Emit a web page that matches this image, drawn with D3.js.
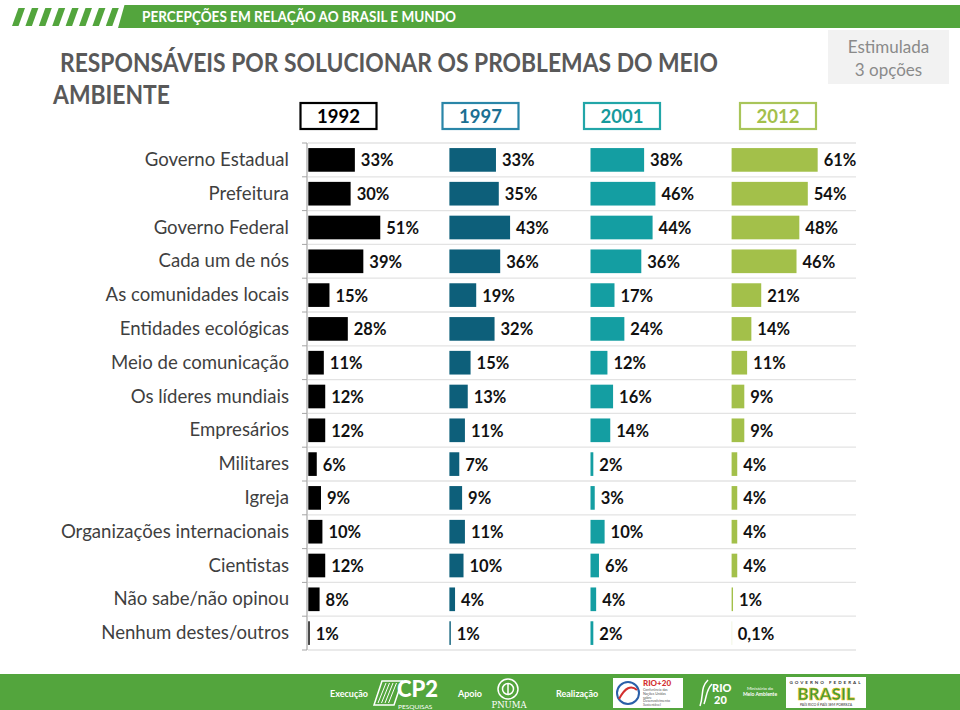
<!DOCTYPE html>
<html><head><meta charset="utf-8">
<script src="https://cdn.jsdelivr.net/npm/d3@7"></script>
<style>body{margin:0;background:#fff} svg{display:block}</style>
</head><body><svg id="c" width="960" height="710"></svg>
<script>
const categories = ["Governo Estadual","Prefeitura","Governo Federal","Cada um de nós","As comunidades locais","Entidades ecológicas","Meio de comunicação","Os líderes mundiais","Empresários","Militares","Igreja","Organizações internacionais","Cientistas","Não sabe/não opinou","Nenhum destes/outros"];
const years = ["1992","1997","2001","2012"];
const values1992 = [33,30,51,39,15,28,11,12,12,6,9,10,12,8,1];
const values1997 = [33,35,43,36,19,32,15,13,11,7,9,11,10,4,1];
const values2001 = [38,46,44,36,17,24,12,16,14,2,3,10,6,4,2];
const values2012 = [61,54,48,46,21,14,11,9,9,4,4,4,4,1,0.1];
const series = [values1992, values1997, values2001, values2012];

const barColors = ["#000000","#0d5f7a","#149ea2","#a3c04a"];
const boxColors = ["#000000","#2a86a8","#22a6a8","#a9c55a"];
const textColors = ["#000000","#1b6f92","#169a9c","#a3c04b"];
const green = "#53a53d";
const font = "Lato, 'Open Sans', sans-serif";

const svg = d3.select("#c");

// ---- header ----
const hdr = svg.append("g");
for (let i = 0; i < 8; i++) {
  const x0 = 12 + i * 13.4;
  hdr.append("polygon")
    .attr("points", `${x0},26 ${x0+6.5},26 ${x0+13},8 ${x0+6.5},8`)
    .attr("fill", green);
}
hdr.append("polygon")
  .attr("points", `118,28 124.5,5 960,5 960,28`)
  .attr("fill", green);
hdr.append("text").attr("x", 142).attr("y", 22)
  .attr("font-family", font).attr("font-weight", 700).attr("font-size", 16)
  .attr("fill", "#fff").attr("textLength", 314).attr("lengthAdjust", "spacingAndGlyphs")
  .text("PERCEPÇÕES EM RELAÇÃO AO BRASIL E MUNDO");

// ---- title ----
svg.append("text").attr("x", 60).attr("y", 72)
  .attr("font-family", font).attr("font-weight", 700).attr("font-size", 26)
  .attr("fill", "#595959").attr("textLength", 658).attr("lengthAdjust", "spacingAndGlyphs")
  .text("RESPONSÁVEIS POR SOLUCIONAR OS PROBLEMAS DO MEIO");
svg.append("text").attr("x", 53).attr("y", 104)
  .attr("font-family", font).attr("font-weight", 700).attr("font-size", 26)
  .attr("fill", "#595959").attr("textLength", 117).attr("lengthAdjust", "spacingAndGlyphs")
  .text("AMBIENTE");

// ---- Estimulada box ----
svg.append("rect").attr("x", 828).attr("y", 30).attr("width", 121).attr("height", 54).attr("fill", "#f2f2f2");
svg.append("text").attr("x", 888.5).attr("y", 53).attr("text-anchor", "middle")
  .attr("font-family", font).attr("font-size", 17).attr("fill", "#8a8a8a").text("Estimulada");
svg.append("text").attr("x", 888.5).attr("y", 76).attr("text-anchor", "middle")
  .attr("font-family", font).attr("font-size", 17).attr("fill", "#8a8a8a").text("3 opções");

// ---- scales ----
const xYear = d3.scaleBand().domain(years).range([308.3, 872.7]);
const x = d3.scaleLinear().domain([0, 100]).range([0, xYear.bandwidth()]);
const y = d3.scaleBand().domain(categories).range([143, 650]).paddingInner(0.3).paddingOuter(0.15);
const gap = (y.step() - y.bandwidth()) / 2;

// ---- year boxes ----
const boxCenters = [338.5, 480.5, 622, 778];
years.forEach((yr, i) => {
  svg.append("rect").attr("x", boxCenters[i] - 38).attr("y", 103).attr("width", 76).attr("height", 26)
    .attr("fill", "#fff").attr("stroke", boxColors[i]).attr("stroke-width", 2.2);
  svg.append("text").attr("x", boxCenters[i]).attr("y", 123).attr("text-anchor", "middle")
    .attr("font-family", font).attr("font-weight", 700).attr("font-size", 18.5)
    .attr("fill", textColors[i]).text(yr);
});

// ---- separators ----
const bounds = categories.map(c => y(c) - gap).concat([650]);
svg.append("g").selectAll("line").data(bounds).join("line")
  .attr("x1", 308).attr("x2", 856).attr("y1", d => d).attr("y2", d => d)
  .attr("stroke", "#e3e3e3").attr("stroke-width", 1.3);
svg.append("g").selectAll("line").data(bounds).join("line")
  .attr("x1", 302).attr("x2", 307).attr("y1", d => d).attr("y2", d => d)
  .attr("stroke", "#a6a6a6").attr("stroke-width", 1);
svg.append("line").attr("x1", 307).attr("x2", 307).attr("y1", 143).attr("y2", 650)
  .attr("stroke", "#a6a6a6").attr("stroke-width", 1.2);

// ---- category labels ----
svg.append("g").selectAll("text").data(categories).join("text")
  .attr("x", 289).attr("y", d => y(d) + y.bandwidth() / 2 + 6)
  .attr("text-anchor", "end").attr("font-family", font).attr("font-size", 18.6)
  .attr("fill", "#3f3f3f").text(d => d);

// ---- bars & labels ----
const fmt = v => String(v).replace(".", ",") + "%";
years.forEach((yr, i) => {
  const g = svg.append("g");
  const data = categories.map((c, j) => ({c, v: series[i][j]}));
  g.selectAll("rect").data(data).join("rect")
    .attr("x", xYear(yr)).attr("y", d => y(d.c))
    .attr("width", d => Math.max(x(d.v), d.v < 0.5 ? 0.6 : 0)).attr("height", y.bandwidth())
    .attr("fill", barColors[i]).attr("opacity", d => d.v < 0.5 ? 0.25 : 1);
  g.selectAll("text").data(data).join("text")
    .attr("x", d => xYear(yr) + x(d.v) + 6)
    .attr("y", d => y(d.c) + y.bandwidth() / 2 + 6.5)
    .attr("font-family", font).attr("font-weight", 700).attr("font-size", 16.5)
    .attr("fill", "#111").text(d => fmt(d.v));
});

// ---- footer ----
const ft = svg.append("g");
ft.append("rect").attr("x", 0).attr("y", 674).attr("width", 960).attr("height", 36).attr("fill", green);
const small = (t, xx, yy, fs, anchor, fam, wt) => ft.append("text").attr("x", xx).attr("y", yy)
  .attr("font-family", fam || font).attr("font-size", fs).attr("font-weight", wt || 700)
  .attr("fill", "#fff").attr("text-anchor", anchor || "start").text(t);
small("Execução", 330, 697, 9);
// CP2 logo
ft.append("polygon").attr("points", "374,705 382,681 402,681 394,705").attr("fill", "none").attr("stroke", "#fff").attr("stroke-width", 1.5);
[0,1,2,3].forEach(k => ft.append("line").attr("x1", 378 + k*3.5).attr("y1", 703).attr("x2", 386 + k*3.5).attr("y2", 683).attr("stroke", "#fff").attr("stroke-width", 1));
small("CP2", 397, 697, 22, "start", font, 900);
small("PESQUISAS", 398, 708.5, 6.5, "start", font, 400);
small("Apoio", 458, 697, 9);
// UN emblem
ft.append("circle").attr("cx", 508).attr("cy", 689).attr("r", 10).attr("fill", "none").attr("stroke", "#fff").attr("stroke-width", 1.5);
ft.append("circle").attr("cx", 508).attr("cy", 689).attr("r", 5.5).attr("fill", "none").attr("stroke", "#fff").attr("stroke-width", 1.5);
ft.append("line").attr("x1", 508).attr("x2", 508).attr("y1", 683).attr("y2", 695).attr("stroke", "#fff").attr("stroke-width", 1.5);
small("PNUMA", 509, 708, 8.5, "middle", "'DejaVu Serif', serif", 400);
small("Realização", 556, 697, 9);
// RIO+20 box
ft.append("rect").attr("x", 613).attr("y", 678).attr("width", 70).attr("height", 30).attr("fill", "#fff");
ft.append("circle").attr("cx", 628).attr("cy", 693).attr("r", 11).attr("fill", "none").attr("stroke", "#2b5fa8").attr("stroke-width", 2);
ft.append("path").attr("d", "M619,699 Q628,682 637,690").attr("fill", "none").attr("stroke", "#d32f2f").attr("stroke-width", 2);
ft.append("text").attr("x", 643).attr("y", 686).attr("font-family", font).attr("font-weight", 900).attr("font-size", 8).attr("fill", "#d32f2f").text("RIO+20");
["Conferência das","Nações Unidas","sobre","Desenvolvimento","Sustentável"].forEach((t, k) =>
  ft.append("text").attr("x", 643).attr("y", 691 + k*3.8).attr("font-family", font).attr("font-size", 3.5).attr("fill", "#555").text(t));
// RIO 20 logo
ft.append("path").attr("d", "M700,706 C704,695 700,688 708,680 M704,704 C707,696 706,690 712,684").attr("fill", "none").attr("stroke", "#fff").attr("stroke-width", 1.5);
small("RIO", 712, 692, 11, "start", font, 900);
small("20", 714, 704, 11, "start", font, 900);
small("Ministério do", 760, 690, 4.5, "middle", font, 400);
small("Meio Ambiente", 760, 696, 5, "middle", font, 700);
// BRASIL box
ft.append("rect").attr("x", 786).attr("y", 677).attr("width", 80).attr("height", 31).attr("fill", "#fff");
ft.append("text").attr("x", 826).attr("y", 683.5).attr("text-anchor", "middle").attr("font-family", font).attr("font-weight", 700).attr("font-size", 4.5).attr("fill", "#333").attr("letter-spacing", 2).text("GOVERNO FEDERAL");
ft.append("text").attr("x", 826).attr("y", 700).attr("text-anchor", "middle").attr("font-family", font).attr("font-weight", 900).attr("font-size", 17).attr("fill", "#3a9a3a").attr("stroke", "#f0c419").attr("stroke-width", 0.6).text("BRASIL");
ft.append("text").attr("x", 826).attr("y", 706).attr("text-anchor", "middle").attr("font-family", font).attr("font-size", 3.5).attr("fill", "#333").text("PAÍS RICO É PAÍS SEM POBREZA");
</script>
</body></html>
